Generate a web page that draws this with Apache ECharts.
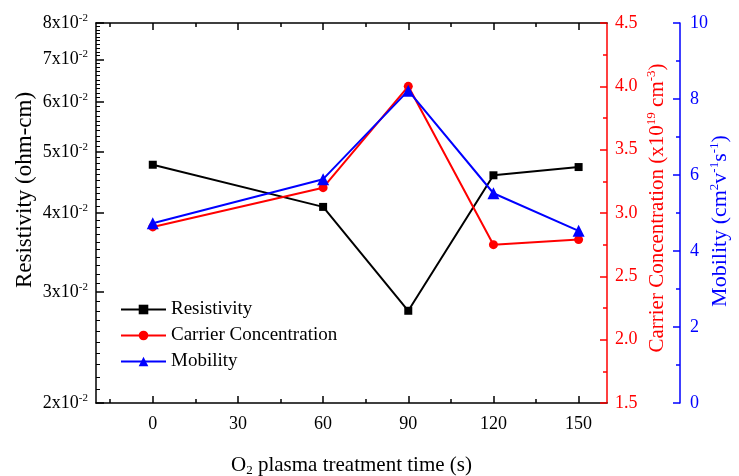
<!DOCTYPE html>
<html>
<head>
<meta charset="UTF-8">
<title>O2 plasma treatment</title>
<script src="https://cdn.jsdelivr.net/npm/echarts@6/dist/echarts.min.js"></script>
</head>
<body style="margin:0;background:#fff">
<div id="main" style="width:739px;height:476px;"></div>
<script type="text/javascript">
// data
var times = [0, 60, 90, 120, 150];
var resistivity = [0.0477, 0.0409, 0.0280, 0.0459, 0.0473];   // ohm-cm
var carrier = [2.89, 3.20, 4.00, 2.75, 2.79];                   // x10^19 cm^-3
var mobility = [4.73, 5.89, 8.22, 5.52, 4.53];                  // cm^2 V^-1 s^-1

var xTicks = [0, 30, 60, 90, 120, 150];
var xMinorTicks = [-15, 15, 45, 75, 105, 135];
var resTicks = [0.02, 0.03, 0.04, 0.05, 0.06, 0.07, 0.08];

var FONT = "'Liberation Serif', 'Times New Roman', serif";

// log scale done by hand on a value axis
function lg(v) { return Math.log10(v); }
var resMinor = [];
for (var i = 21; i < 80; i++) {
	if (i % 10 != 0) resMinor.push(lg(i / 1000));
}

var myChart = echarts.init(document.getElementById('main'));

function baseX(pos) {
	return {
		type: 'value', position: pos, min: -20, max: 160,
		axisLine: { show: true, onZero: false, lineStyle: { color: '#000', width: 1.5 } },
		splitLine: { show: false },
		axisLabel: { show: false },
		axisTick: { show: false }
	};
}

var xMain = baseX('bottom');
xMain.axisTick = { show: true, inside: true, length: 7, customValues: xTicks, lineStyle: { color: '#000', width: 1.5 } };
xMain.axisLabel = { show: true, customValues: xTicks, margin: 12, fontFamily: FONT, fontSize: 18, color: '#000' };
xMain.name = '{a|O}{s|2}{a| plasma treatment time (s)}';
xMain.nameLocation = 'middle';
xMain.nameGap = 51;
xMain.nameMoveOverlap = false;
xMain.nameTextStyle = { rich: {
	a: { fontFamily: FONT, fontSize: 21, color: '#000' },
	s: { fontFamily: FONT, fontSize: 13, color: '#000', padding: [10, 0, 0, 0] }
} };

var xMinor = baseX('bottom');
xMinor.axisLine = { show: false, onZero: false };
xMinor.axisTick = { show: true, inside: true, length: 4, customValues: xMinorTicks, lineStyle: { color: '#000', width: 1.5 } };

var xTop = baseX('top');
xTop.axisTick = { show: true, inside: true, length: 7, customValues: xTicks, lineStyle: { color: '#000', width: 1.5 } };
var xTopMinor = baseX('top');
xTopMinor.axisLine = { show: false, onZero: false };
xTopMinor.axisTick = { show: true, inside: true, length: 4, customValues: xMinorTicks, lineStyle: { color: '#000', width: 1.5 } };

var resAxis = {
	type: 'value', position: 'left', min: lg(0.02), max: lg(0.08),
	axisLine: { show: true, onZero: false, lineStyle: { color: '#000', width: 1.5 } },
	splitLine: { show: false },
	axisTick: { show: true, inside: true, length: 8, customValues: resTicks.map(lg), lineStyle: { color: '#000', width: 1.5 } },
	axisLabel: {
		customValues: resTicks.map(lg), margin: 8,
		formatter: function (v) { return '{b|' + Math.round(Math.pow(10, v) * 100) + 'x10}{s|-2}'; },
		rich: {
			b: { fontFamily: FONT, fontSize: 18, color: '#000' },
			s: { fontFamily: FONT, fontSize: 11, color: '#000', padding: [0, 0, 10, 0] }
		}
	},
	name: 'Resistivity (ohm-cm)', nameLocation: 'middle', nameRotate: 90, nameGap: 60,
	nameMoveOverlap: false,
	nameTextStyle: { fontFamily: FONT, fontSize: 23, color: '#000', padding: [0, 0, 0, 46] }
};
var resMinorAxis = {
	type: 'value', position: 'left', min: lg(0.02), max: lg(0.08),
	axisLine: { show: false, onZero: false }, splitLine: { show: false }, axisLabel: { show: false },
	axisTick: { show: true, inside: true, length: 4, customValues: resMinor, lineStyle: { color: '#000', width: 1 } }
};

var carAxis = {
	type: 'value', position: 'right', min: 1.5, max: 4.5, interval: 0.5,
	axisLine: { show: true, onZero: false, lineStyle: { color: '#ff0000', width: 1.5 } },
	splitLine: { show: false },
	axisTick: { show: true, inside: true, length: 7, lineStyle: { color: '#ff0000', width: 1.5 } },
	minorTick: { show: true, splitNumber: 2, length: 4, lineStyle: { color: '#ff0000', width: 1.5 } },
	axisLabel: { margin: 8, fontFamily: FONT, fontSize: 18, color: '#ff0000',
		formatter: function (v) { return v.toFixed(1); } },
	name: '{a|Carrier Concentration (x10}{s|19}{a| cm}{s|-3}{a|)}',
	nameLocation: 'middle', nameRotate: 90, nameGap: 38, nameMoveOverlap: false,
	nameTextStyle: { padding: [0, 0, 0, 10], rich: {
		a: { fontFamily: FONT, fontSize: 21, color: '#ff0000' },
		s: { fontFamily: FONT, fontSize: 13, color: '#ff0000', padding: [0, 0, 11, 0] }
	} }
};
var mobAxis = {
	type: 'value', position: 'right', offset: 73, min: 0, max: 10, interval: 2,
	axisLine: { show: true, onZero: false, lineStyle: { color: '#0000ff', width: 1.5 } },
	splitLine: { show: false },
	axisTick: { show: true, inside: true, length: 7, lineStyle: { color: '#0000ff', width: 1.5 } },
	minorTick: { show: true, splitNumber: 2, length: 4, lineStyle: { color: '#0000ff', width: 1.5 } },
	axisLabel: { margin: 10, fontFamily: FONT, fontSize: 18, color: '#0000ff' },
	name: '{a|Mobility (cm}{s|2}{a|v}{s|-1}{a|s}{s|-1}{a|)}',
	nameLocation: 'middle', nameRotate: 90, nameGap: 28, nameMoveOverlap: false,
	nameTextStyle: { padding: [0, 16, 0, 0], rich: {
		a: { fontFamily: FONT, fontSize: 22, color: '#0000ff' },
		s: { fontFamily: FONT, fontSize: 13, color: '#0000ff', padding: [0, 0, 11, 0] }
	} }
};

function pairs(ys, f) {
	return times.map(function (t, i) { return [t, f ? f(ys[i]) : ys[i]]; });
}

var option = {
	animation: false,
	backgroundColor: '#fff',
	grid: { left: 96, right: 132, top: 23, bottom: 73, outerBoundsMode: 'none' },
	legend: {
		orient: 'vertical', left: 120, top: 300, padding: 0,
		itemWidth: 45, itemHeight: 12, itemGap: 7,
		textStyle: { fontFamily: FONT, fontSize: 19, color: '#000' },
		data: ['Resistivity', 'Carrier Concentration', 'Mobility']
	},
	xAxis: [xMain, xMinor, xTop, xTopMinor],
	yAxis: [resAxis, resMinorAxis, carAxis, mobAxis],
	series: [
		{ name: 'Resistivity', type: 'line', xAxisIndex: 0, yAxisIndex: 0,
		  data: pairs(resistivity, lg), symbol: 'rect', symbolSize: 8,
		  itemStyle: { color: '#000' }, lineStyle: { color: '#000', width: 2 } },
		{ name: 'Carrier Concentration', type: 'line', xAxisIndex: 0, yAxisIndex: 2,
		  data: pairs(carrier), symbol: 'circle', symbolSize: 9,
		  itemStyle: { color: '#ff0000' }, lineStyle: { color: '#ff0000', width: 2 } },
		{ name: 'Mobility', type: 'line', xAxisIndex: 0, yAxisIndex: 3,
		  data: pairs(mobility), symbol: 'triangle', symbolSize: 12,
		  itemStyle: { color: '#0000ff' }, lineStyle: { color: '#0000ff', width: 2 } }
	]
};
myChart.setOption(option);
</script>
</body>
</html>
